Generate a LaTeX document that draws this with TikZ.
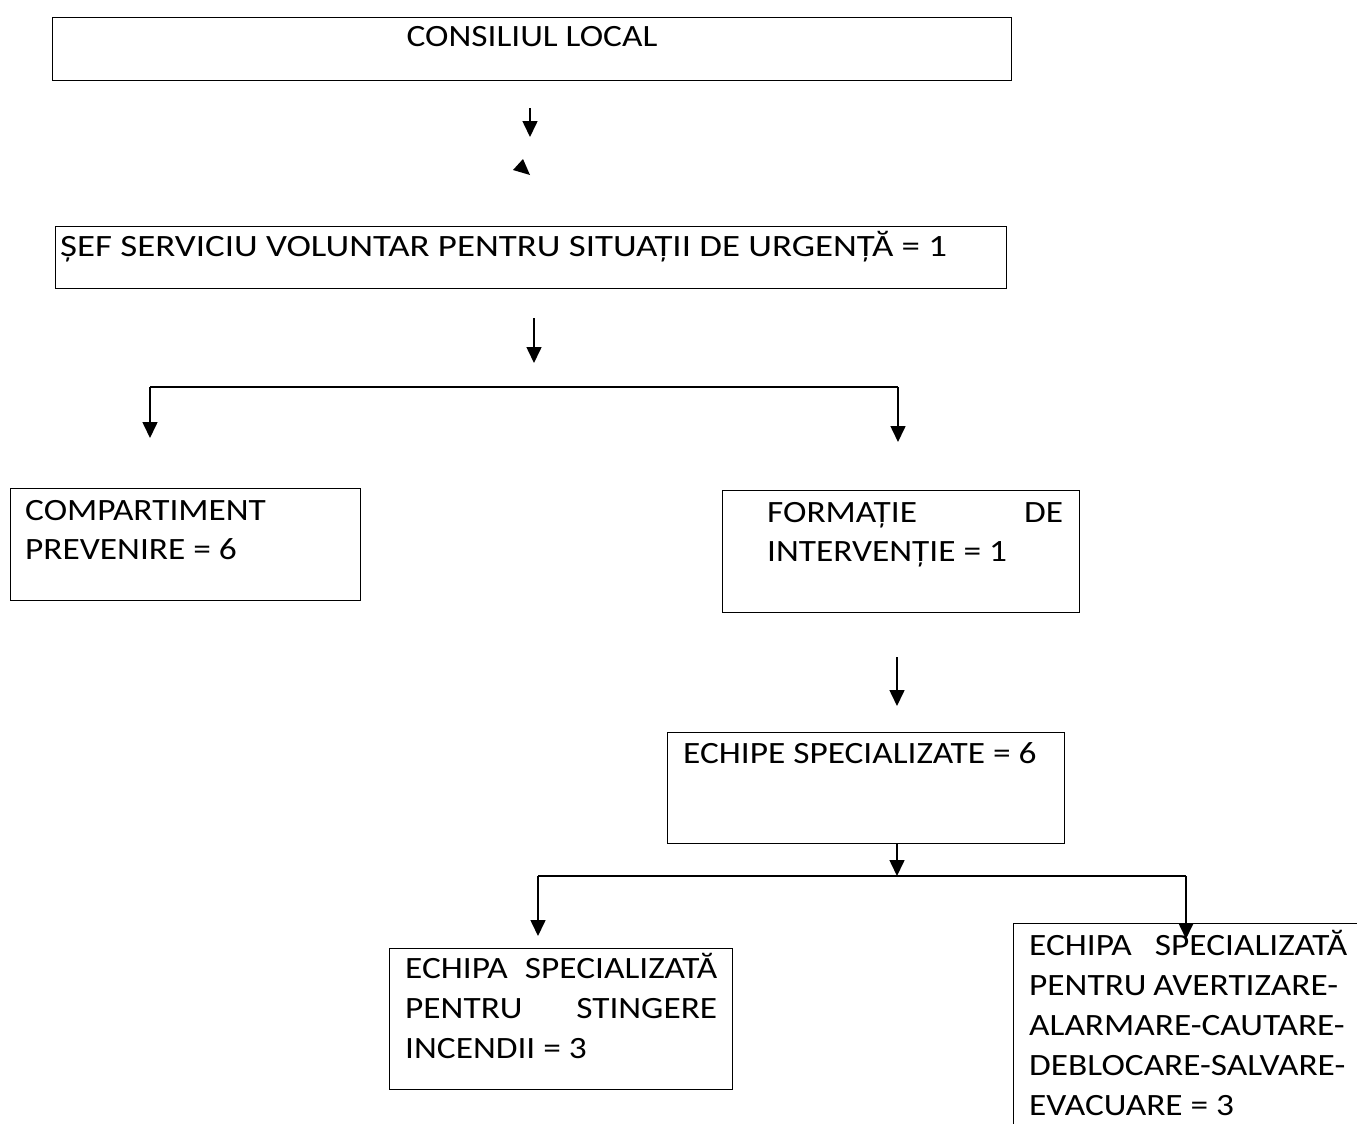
\documentclass[tikz,border=0pt]{standalone}
\usepackage{fontspec}
\usepackage{graphicx}
\setmainfont[FakeStretch=1.14]{Carlito}
\usetikzlibrary{arrows.meta}
\begin{document}
\begin{tikzpicture}[x=1pt,y=-1pt,
  box/.style={draw,line width=1.2pt},
  txt/.style={anchor=base west,inner sep=0pt,font=\fontsize{31}{38}\selectfont},
  ctxt/.style={anchor=base,inner sep=0pt,font=\fontsize{31}{38}\selectfont},
  arr/.style={line width=1.6pt,-{Triangle[length=16pt,width=15pt]}},
  ln/.style={line width=1.6pt}]
\clip (0,0) rectangle (1357,1124);
\fill[white] (0,0) rectangle (1357,1124);
% boxes
\node[box,minimum width=959pt,minimum height=63pt,anchor=north west,inner sep=0pt] (b1) at (52,17) {};
\node[box,minimum width=951pt,minimum height=62pt,anchor=north west,inner sep=0pt] (b2) at (55,226) {};
\node[box,minimum width=350pt,minimum height=112pt,anchor=north west,inner sep=0pt] (b3) at (10,488) {};
\node[box,minimum width=357pt,minimum height=122pt,anchor=north west,inner sep=0pt] (b4) at (722,490) {};
\node[box,minimum width=397pt,minimum height=111pt,anchor=north west,inner sep=0pt] (b5) at (667,732) {};
\node[box,minimum width=343pt,minimum height=141pt,anchor=north west,inner sep=0pt] (b6) at (389,948) {};
\node[box,minimum width=380pt,minimum height=240pt,anchor=north west,inner sep=0pt] (b7) at (1013,923) {};
% texts
\node[ctxt] (t1) at (532,47) {CONSILIUL LOCAL};
\node[txt] (t2) at (60,256) {\scalebox{1.044}[1]{ȘEF SERVICIU VOLUNTAR PENTRU SITUAȚII DE URGENȚĂ = 1}};
\node[txt] (t3a) at (25,520) {COMPARTIMENT};
\node[txt] (t3b) at (25,559) {PREVENIRE = 6};
\node[txt] (t4a) at (767,522) {\makebox[296pt][l]{FORMAȚIE\hfill DE}};
\node[txt] (t4b) at (767,561) {INTERVENȚIE = 1};
\node[txt] (t5) at (683,763) {ECHIPE SPECIALIZATE = 6};
\node[txt] (t6a) at (405,978) {\makebox[312pt][l]{ECHIPA\hfill SPECIALIZATĂ}};
\node[txt] (t6b) at (405,1018) {\makebox[312pt][l]{PENTRU\hfill STINGERE}};
\node[txt] (t6c) at (405,1058) {INCENDII = 3};
\node[txt] (t7a) at (1029,955) {\makebox[318pt][l]{ECHIPA\hfill SPECIALIZATĂ}};
\node[txt] (t7b) at (1029,995) {\makebox[309pt][l]{PENTRU\hfill AVERTIZARE-}};
\node[txt] (t7c) at (1029,1035) {ALARMARE-CAUTARE-};
\node[txt] (t7d) at (1029,1075) {DEBLOCARE-SALVARE-};
\node[txt] (t7e) at (1029,1115) {EVACUARE = 3};
% connectors
\coordinate (a1s) at (530,108); \coordinate (a1e) at (530,137);
\draw[arr] (a1s) -- (a1e);
\fill (523,159) -- (513,170) -- (530,175) -- cycle;
\coordinate (a2s) at (534,318); \coordinate (a2e) at (534,363);
\draw[arr] (a2s) -- (a2e);
\coordinate (hl) at (150,387); \coordinate (hr) at (898,387);
\coordinate (hle) at (150,438); \coordinate (hre) at (898,442);
\draw[ln] (hle |- hl) -- (hr);
\draw[arr] (hl) -- (hle);
\draw[arr] (hr) -- (hre);
\coordinate (a3s) at (897,657); \coordinate (a3e) at (897,706);
\draw[arr] (a3s) -- (a3e);
\coordinate (ml) at (538,876); \coordinate (mr) at (1186,876);
\draw[arr] (b5.south -| a3s) -- (a3s |- ml);
\draw[ln] (ml) -- (mr);
\draw[arr] (ml) -- (538,936);
\draw[arr] (mr) -- (1186,939);
\end{tikzpicture}
\end{document}
